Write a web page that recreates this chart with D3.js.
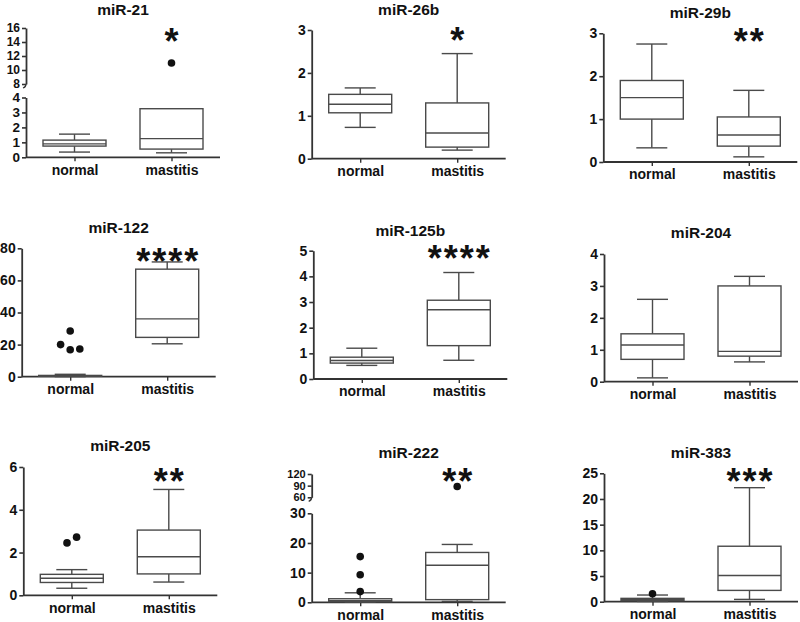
<!DOCTYPE html>
<html>
<head>
<meta charset="utf-8">
<script src="https://cdn.jsdelivr.net/npm/d3@7"></script>
<style>
  html, body { margin: 0; padding: 0; background: #fff; }
  svg { display: block; }
  text { font-family: "Liberation Sans", Arial, Helvetica, sans-serif; font-weight: bold; }
</style>
</head>
<body>
<svg id="chart" width="800" height="622"></svg>
<script>
// ---------------- DATA ----------------
const mirnas = ["miR-21", "miR-26b", "miR-29b", "miR-122", "miR-125b", "miR-204", "miR-205", "miR-222", "miR-383"];
const groups = ["normal", "mastitis"];

// box stats: [min whisker, Q1, median, Q3, max whisker]
const normalStats = [
  [0.35, 0.75, 0.9, 1.15, 1.55],
  [0.73, 1.07, 1.27, 1.5, 1.65],
  [0.33, 1.0, 1.5, 1.9, 2.75],
  [0.05, 0.3, 0.5, 0.8, 1.5],
  [0.53, 0.62, 0.72, 0.85, 1.2],
  [0.12, 0.7, 1.15, 1.5, 2.58],
  [0.33, 0.6, 0.8, 0.98, 1.2],
  [0.05, 0.2, 0.5, 1.2, 3.2],
  [0.05, 0.2, 0.45, 0.65, 1.3]
];
const mastitisStats = [
  [0.3, 0.55, 1.25, 3.25, 3.25],
  [0.2, 0.27, 0.6, 1.3, 2.45],
  [0.12, 0.37, 0.63, 1.05, 1.67],
  [20.5, 24.5, 36, 67, 71.5],
  [0.73, 1.3, 2.7, 3.07, 4.15],
  [0.62, 0.8, 0.95, 3.0, 3.3],
  [0.62, 1.0, 1.8, 3.05, 4.95],
  [0.3, 0.9, 12.5, 16.8, 19.5],
  [0.45, 2.2, 5.1, 10.8, 22.2]
];
const normalOutliers = [[], [], [], [28.5, 20, 16.8, 17.3], [], [], [2.45, 2.72], [15.4, 9.3, 3.6], [1.55]];
const mastitisOutliers = [[11], [], [], [], [], [], [], [88], []];
const significance = ["*", "*", "**", "****", "****", "", "**", "**", "***"];

// y-axis ticks (lower segment, and upper segment for broken axes)
const yTicksLower = [
  [0, 1, 2, 3, 4], [0, 1, 2, 3], [0, 1, 2, 3], [0, 20, 40, 60, 80], [0, 1, 2, 3, 4, 5],
  [0, 1, 2, 3, 4], [0, 2, 4, 6], [0, 10, 20, 30], [0, 5, 10, 15, 20, 25]
];
const yTicksUpper = [[8, 10, 12, 14, 16], null, null, null, null, null, null, [60, 90, 120], null];

// ---------------- LAYOUT ----------------
const layout = [
  {axisX: 26,    zero: 157.3, top: 28,    title: 14.7,  star: 35,    brkLow: 97.5,  brkUp: 84,   upFont: 12, lowFont: 13.5},
  {axisX: 311.7, zero: 158.7, top: 30,    title: 15,    star: 34},
  {axisX: 603.3, zero: 162,   top: 33.3,  title: 18.3,  star: 35},
  {axisX: 21.7,  zero: 376.7, top: 248.3, title: 232.7, star: 255},
  {axisX: 313.3, zero: 379,   top: 250.7, title: 235.7, star: 251.7},
  {axisX: 604,   zero: 381.7, top: 254,   title: 237.7, star: 0},
  {axisX: 23.3,  zero: 595.3, top: 467,   title: 450.7, star: 475},
  {axisX: 311.7, zero: 602.3, top: 474,   title: 458.3, star: 475,  brkLow: 513.3, brkUp: 497.3, upFont: 11},
  {axisX: 604,   zero: 601.7, top: 473.3, title: 458.3, star: 475}
];

const plotW = 194, boxW = 63, capW = 31, dotR = 3.8;
const boxColor = "#4a4a4a", axisColor = "#333";

const svg = d3.select("#chart");

mirnas.forEach((name, i) => {
  const L = layout[i];
  const g = svg.append("g");
  const lower = yTicksLower[i], upper = yTicksUpper[i];
  const lowMax = lower[lower.length - 1];

  let y;
  if (upper) {
    y = d3.scaleLinear()
      .domain([0, lowMax, upper[0], upper[upper.length - 1]])
      .range([L.zero, L.brkLow, L.brkUp, L.top]);
  } else {
    y = d3.scaleLinear().domain([0, lowMax]).range([L.zero, L.top]);
  }

  const x = d3.scalePoint().domain(groups).range([L.axisX, L.axisX + plotW]).padding(0.5);

  // Title
  g.append("text")
    .attr("x", L.axisX + plotW / 2).attr("y", L.title)
    .attr("text-anchor", "middle").attr("font-size", 15.5).attr("fill", "#111")
    .text(name);

  const styleAxis = fs => sel => {
    sel.attr("font-family", null);
    sel.select(".domain").attr("stroke", axisColor).attr("stroke-width", 1.8);
    sel.selectAll(".tick line").attr("stroke", axisColor).attr("stroke-width", 1.6);
    sel.selectAll(".tick text").attr("font-size", fs).attr("fill", "#111");
  };
  const yLow = d3.scaleLinear().domain([0, lowMax]).range([L.zero, upper ? L.brkLow : L.top]);
  g.append("g").attr("transform", `translate(${L.axisX},0)`)
    .call(d3.axisLeft(yLow).tickValues(lower).tickSize(4).tickSizeOuter(0).tickPadding(2).tickFormat(d3.format("d")))
    .call(styleAxis(L.lowFont || 14));
  if (upper) {
    const yUp = d3.scaleLinear().domain([upper[0], upper[upper.length - 1]]).range([L.brkUp, L.top]);
    g.append("g").attr("transform", `translate(${L.axisX},0)`)
      .call(d3.axisLeft(yUp).tickValues(upper).tickSize(4).tickSizeOuter(0).tickPadding(2).tickFormat(d3.format("d")))
      .call(styleAxis(L.upFont));
    // break mark
    g.append("path")
      .attr("d", `M${L.axisX},${L.brkUp} q0,3 -3,4`)
      .attr("fill", "none").attr("stroke", axisColor).attr("stroke-width", 1.3);
  }

  // X axis
  g.append("g").attr("transform", `translate(0,${L.zero})`)
    .call(d3.axisBottom(x).tickSize(4).tickSizeOuter(0).tickPadding(3.5))
    .call(sel => {
      sel.attr("font-family", null);
      sel.select(".domain").attr("d", `M${L.axisX},0H${L.axisX + plotW}`)
        .attr("stroke", axisColor).attr("stroke-width", 1.8);
      sel.selectAll(".tick line").attr("stroke", axisColor).attr("stroke-width", 1.4);
      sel.selectAll(".tick text").attr("font-size", 14).attr("fill", "#111");
    });

  // Boxes
  const stats = [normalStats[i], mastitisStats[i]];
  const outs = [normalOutliers[i], mastitisOutliers[i]];
  groups.forEach((grp, j) => {
    const [mn, q1, md, q3, mx] = stats[j];
    const cx = x(grp);
    const bg = g.append("g").attr("stroke", boxColor).attr("stroke-width", 1.4).attr("fill", "none");
    bg.append("line").attr("x1", cx).attr("x2", cx).attr("y1", y(q3)).attr("y2", y(mx));
    bg.append("line").attr("x1", cx).attr("x2", cx).attr("y1", y(q1)).attr("y2", y(mn));
    if (mx > q3) bg.append("line").attr("x1", cx - capW / 2).attr("x2", cx + capW / 2).attr("y1", y(mx)).attr("y2", y(mx));
    if (mn < q1) bg.append("line").attr("x1", cx - capW / 2).attr("x2", cx + capW / 2).attr("y1", y(mn)).attr("y2", y(mn));
    bg.append("rect").attr("x", cx - boxW / 2).attr("width", boxW)
      .attr("y", y(q3)).attr("height", Math.max(0.5, y(q1) - y(q3))).attr("fill", "#fff");
    bg.append("line").attr("x1", cx - boxW / 2).attr("x2", cx + boxW / 2).attr("y1", y(md)).attr("y2", y(md));

    const pts = outs[j].map((v, k) => ({v, k, py: y(v)}));
    const clusters = [];
    pts.slice().sort((a, b) => a.py - b.py).forEach(p => {
      const last = clusters[clusters.length - 1];
      if (last && p.py - last[last.length - 1].py < 2 * dotR + 1) last.push(p);
      else clusters.push([p]);
    });
    clusters.forEach(cl => {
      cl.sort((a, b) => a.k - b.k);
      cl.forEach((p, n) => { p.dx = (n - (cl.length - 1) / 2) * (2 * dotR + 2); });
    });
    g.selectAll(null).data(pts).enter().append("circle")
      .attr("cx", p => cx + p.dx).attr("cy", p => p.py).attr("r", dotR).attr("fill", "#111");
  });

  // significance stars
  if (significance[i]) {
    g.append("text")
      .attr("x", x("mastitis") + 1).attr("y", L.star + 19)
      .attr("text-anchor", "middle").attr("font-size", 36).attr("letter-spacing", 2)
      .attr("fill", "#111")
      .text(significance[i]);
  }
});
</script>
</body>
</html>
